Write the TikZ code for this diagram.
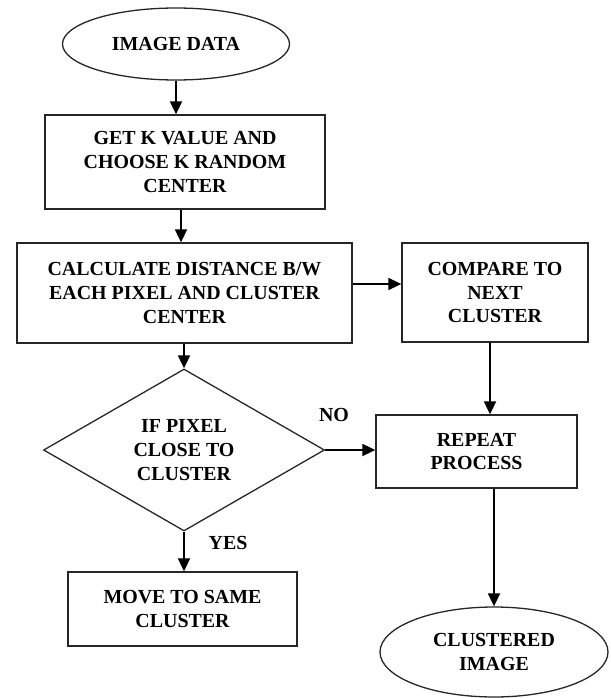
\documentclass[tikz,border=0pt]{standalone}
\usepackage{fontspec}
\setmainfont{Liberation Serif}
\usetikzlibrary{shapes.geometric,arrows.meta}
\tikzset{
  base/.style={draw=black!85, line width=1.3bp, font=\bfseries\fontsize{20}{24}\selectfont, align=center, inner sep=0pt, text=black},
  boxnode/.style={base, rectangle},
  ovalnode/.style={base, ellipse},
  dianode/.style={base, diamond},
  conn/.style={line width=1.8bp, -{Triangle[length=13bp,width=12bp]}},
  lbl/.style={font=\bfseries\fontsize{20}{24}\selectfont, inner sep=0pt}
}
\begin{document}
\begin{tikzpicture}[x=1bp,y=-1bp]
\useasboundingbox (0,0) rectangle (611,698);
\node[ovalnode, minimum width=227bp, minimum height=72bp] (img) at (176,44) {IMAGE DATA};
\node[boxnode, minimum width=280bp, minimum height=94bp] (b1) at (185,162) {GET K VALUE AND\\CHOOSE K RANDOM\\CENTER};
\node[boxnode, minimum width=335bp, minimum height=100bp] (b2) at (184.5,293) {CALCULATE DISTANCE B/W\\EACH PIXEL AND CLUSTER\\CENTER};
\node[boxnode, minimum width=186bp, minimum height=99bp] (cmp) at (495,292.5) {COMPARE TO\\NEXT\\CLUSTER};
\node[dianode, minimum width=281bp, minimum height=154bp] (dia) at (184,450) {IF PIXEL\\CLOSE TO\\CLUSTER};
\node[boxnode, minimum width=201bp, minimum height=73bp] (rep) at (476.5,451.5) {REPEAT\\PROCESS};
\node[boxnode, minimum width=229bp, minimum height=74bp] (mv) at (182.5,609) {MOVE TO SAME\\CLUSTER};
\node[ovalnode, minimum width=228bp, minimum height=90bp] (clus) at (494,652) {CLUSTERED\\IMAGE};
\node[lbl] (no) at (334,415) {NO};
\node[lbl] (yes) at (228,543) {YES};
\draw[conn] (img.south) -- (img.south |- b1.north);
\draw[conn] ([xshift=-4bp]b1.south) -- ([xshift=-4bp]b1.south |- b2.north);
\draw[conn] (dia.north |- b2.south) -- (dia.north);
\draw[conn] ([yshift=9bp]b2.east) -- ([yshift=9bp]b2.east -| cmp.west);
\draw[conn] ([xshift=-5bp]cmp.south) -- ([xshift=-5bp]cmp.south |- rep.north);
\draw[conn] (dia.east) -- (dia.east -| rep.west);
\draw[conn] (dia.south) -- (dia.south |- mv.north);
\draw[conn] (clus.north |- rep.south) -- (clus.north);
\end{tikzpicture}
\end{document}
